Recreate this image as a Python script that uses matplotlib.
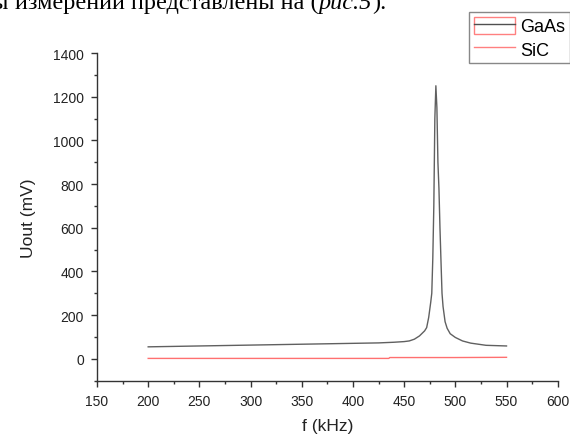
import matplotlib
matplotlib.use("Agg")
import matplotlib.pyplot as plt
import matplotlib.patches as mpatches
from matplotlib.lines import Line2D
from matplotlib.legend_handler import HandlerTuple
from matplotlib.ticker import MultipleLocator

# GaAs resonance curve, Uout (mV) vs f (kHz)
f_gaas = [200, 225, 250, 275, 300, 325, 350, 375, 400, 425, 440, 450, 455, 460,
          465, 470, 472, 474, 476, 477, 478, 479, 480, 481, 482, 483, 484, 485,
          486, 487, 488, 490, 492, 495, 500, 507, 515, 530, 550]
u_gaas = [55, 57, 59, 61, 63, 65, 67, 69, 71, 73, 76, 79, 82, 90,
          105, 128, 143, 190, 260, 300, 460, 700, 1100, 1250, 1150, 900, 780, 600,
          447, 300, 240, 170, 140, 115, 98, 82, 72, 62, 59]

# SiC curve
f_sic = [200, 250, 300, 350, 400, 435, 436, 475, 500, 550]
u_sic = [2, 2, 2, 2, 2, 2, 6, 6, 6, 7]

plt.rcParams['font.family'] = ['Liberation Sans', 'DejaVu Sans']

fig = plt.figure(figsize=(5.7, 4.35), dpi=100)
ax = fig.add_axes([97 / 570, 1 - 381.7 / 435, (557.7 - 97) / 570, (381.7 - 54) / 435])

ax.plot(f_gaas, u_gaas, color='#606060', lw=1.0)
ax.plot(f_sic, u_sic, color='#ff7070', lw=1.0)

ax.set_xlim(150, 600)
ax.set_ylim(-100, 1400)
ax.xaxis.set_major_locator(MultipleLocator(50))
ax.xaxis.set_minor_locator(MultipleLocator(25))
ax.yaxis.set_major_locator(MultipleLocator(200))
ax.yaxis.set_minor_locator(MultipleLocator(100))
ax.spines['top'].set_visible(False)
ax.spines['right'].set_visible(False)
for s in ('left', 'bottom'):
    ax.spines[s].set_color('#333333')
    ax.spines[s].set_linewidth(1.0)
ax.tick_params(which='major', direction='out', length=4, width=1, colors='#333333',
               labelsize=10, labelcolor='#222222', pad=5.5)
ax.tick_params(which='minor', direction='out', length=2, width=1, colors='#333333')

ax.set_xlabel('f (kHz)', fontsize=12.5, color='#222222', labelpad=7)
ax.set_ylabel('Uout (mV)', fontsize=12.5, color='#222222', labelpad=12)

# legend in Origin style
h_gaas = (mpatches.Patch(facecolor='none', edgecolor='#ff8080', lw=1.0),
          Line2D([], [], color='#505050', lw=1.0))
h_sic = Line2D([], [], color='#ff8080', lw=1.0)
fig.legend([h_gaas, h_sic], ['GaAs', 'SiC'],
           handler_map={tuple: HandlerTuple(ndivide=1, pad=0)},
           loc='upper left', bbox_to_anchor=(469 / 570, 1 - 13 / 435),
           borderaxespad=0, fancybox=False, framealpha=1, edgecolor='#888888',
           fontsize=13, handlelength=2.3, handleheight=1.1, handletextpad=0.3,
           labelspacing=0.25, borderpad=0.25)

# clipped line of the surrounding document text
t1 = fig.text(15 / 570, 1 - 9 / 435, 'измерений представлены на (',
              family='Liberation Serif', fontsize=17.5, va='baseline', ha='left')
fig.text(15 / 570, 1 - 9 / 435, 'Результаты ', family='Liberation Serif',
         fontsize=17.5, va='baseline', ha='right')
t2 = plt.annotate('рис.5', xy=(1, 0), xycoords=t1, va='bottom', ha='left',
                  family='Liberation Serif', fontsize=17.5, style='italic')
plt.annotate(').', xy=(1, 0), xycoords=t2, va='bottom', ha='left',
             family='Liberation Serif', fontsize=17.5)

fig.savefig('out.png', dpi=100)
